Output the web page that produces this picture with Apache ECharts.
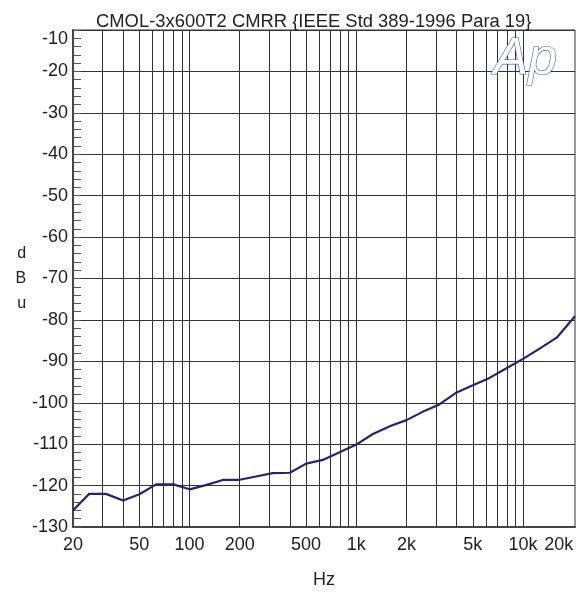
<!DOCTYPE html>
<html>
<head>
<meta charset="utf-8">
<script src="https://cdn.jsdelivr.net/npm/echarts@6/dist/echarts.min.js"></script>
<style>
  html, body { margin: 0; padding: 0; background: #fff; }
  #chart { width: 587px; height: 594px; }
</style>
</head>
<body>
<div id="chart"></div>
<script>
const freqs = [20, 25, 31.5, 40, 50, 63, 80, 100, 125, 160, 200, 250, 315, 400, 500, 630, 800,
  1000, 1250, 1600, 2000, 2500, 3150, 4000, 5000, 6300, 8000, 10000, 12500, 16000, 20500]
const cmrr = [-126.0, -122.0, -122.0, -123.6, -122.1, -119.7, -119.7, -120.9, -119.9, -118.6, -118.6,
  -117.8, -117.0, -116.9, -114.7, -113.8, -111.9, -110.1, -107.6, -105.6, -104.2, -102.2, -100.4,
  -97.5, -95.8, -94.0, -91.6, -89.4, -87.0, -84.2, -79.1]
const gridFreqs = [20, 30, 40, 50, 60, 70, 80, 90, 100, 200, 300, 400, 500, 600, 700, 800, 900,
  1000, 2000, 3000, 4000, 5000, 6000, 7000, 8000, 9000, 10000]
const labelFreqs = [20, 50, 100, 200, 500, 1000, 2000, 5000, 10000, 20000]

const font = 'Liberation Sans, Arial, sans-serif'
const chart = echarts.init(document.getElementById('chart'))

const fmtHz = (v) => (v >= 1000 ? Math.round(v / 1000) + 'k' : String(Math.round(v)))

chart.setOption({
  animation: false,
  title: {
    text: 'CMOL-3x600T2 CMRR {IEEE Std 389-1996 Para 19}',
    left: 91,
    top: 8,
    textStyle: { fontFamily: font, fontSize: 18.4, fontWeight: 'normal', color: '#222' }
  },
  grid: {
    left: 73,
    right: 12,
    top: 30,
    bottom: 65,
    show: true,
    borderColor: '#333',
    borderWidth: 1
  },
  xAxis: {
    type: 'log',
    logBase: 10,
    min: 20,
    max: 20500,
    name: 'Hz',
    nameLocation: 'middle',
    nameGap: 44,
    nameTextStyle: { fontFamily: font, fontSize: 18, color: '#222' },
    axisLine: { show: true, lineStyle: { color: '#444', width: 2 } },
    axisTick: { show: false, customValues: gridFreqs },
    axisLabel: {
      customValues: labelFreqs,
      formatter: fmtHz,
      margin: 9,
      alignMaxLabel: 'right',
      fontFamily: font,
      fontSize: 18,
      color: '#222'
    },
    splitLine: { show: true, lineStyle: { color: '#333', width: 1 } }
  },
  yAxis: {
    type: 'value',
    min: -130,
    max: -10,
    interval: 10,
    name: 'd\nB\nu',
    nameLocation: 'middle',
    nameRotate: 0,
    nameGap: 46,
    nameTextStyle: { fontFamily: font, fontSize: 16, color: '#222', lineHeight: 25 },
    axisLine: { show: true, lineStyle: { color: '#444', width: 2 } },
    axisTick: { show: true, inside: true, length: 8, lineStyle: { color: '#555' } },
    minorTick: { show: true, splitNumber: 5, length: 8, lineStyle: { color: '#555' } },
    axisLabel: {
      margin: 5,
      verticalAlignMaxLabel: 'top',
      fontFamily: font,
      fontSize: 18,
      color: '#222'
    },
    splitLine: { show: true, lineStyle: { color: '#333', width: 1 } }
  },
  graphic: [
    {
      type: 'text',
      left: 493,
      top: 33,
      z: 10,
      style: {
        text: 'Ap',
        font: 'italic 52px ' + font,
        fill: '#fff',
        stroke: '#3f55b8',
        lineWidth: 1.2
      }
    }
  ],
  series: [
    {
      type: 'line',
      data: freqs.map((f, i) => [f, cmrr[i]]),
      showSymbol: false,
      lineStyle: { color: '#2b1f78', width: 2.2 },
      z: 5
    }
  ]
})
</script>
</body>
</html>
